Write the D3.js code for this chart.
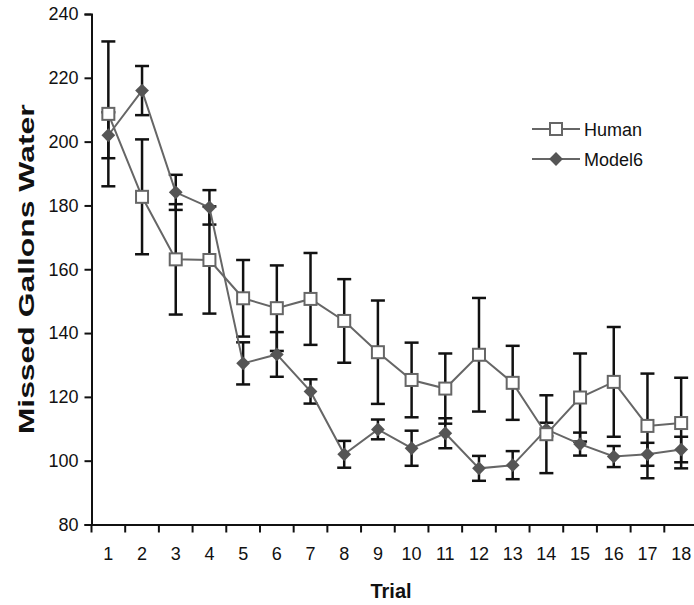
<!DOCTYPE html>
<html>
<head>
<meta charset="utf-8">
<script src="https://cdn.jsdelivr.net/npm/d3@7"></script>
<style>
  body { margin: 0; background: #fff; }
  text { font-family: "Liberation Sans", Arial, sans-serif; }
</style>
</head>
<body>
<div id="chart"></div>
<script>
const svgWidth = 694;
const svgHeight = 605;

const trials = d3.range(1, 19);
const humanMean = [208.7, 182.7, 163.1, 162.9, 150.9, 147.8, 150.7, 143.8, 134.0, 125.3, 122.6, 133.2, 124.4, 108.3, 119.8, 124.7, 110.9, 111.8];
const humanErr  = [22.7, 18.0, 17.3, 16.8, 12.0, 13.4, 14.4, 13.1, 16.2, 11.7, 11.0, 17.8, 11.6, 12.2, 13.8, 17.2, 16.4, 14.2];
const modelMean = [202.0, 216.0, 184.1, 179.4, 130.5, 133.3, 121.7, 102.0, 109.8, 103.9, 108.6, 97.6, 98.6, 109.8, 105.2, 101.3, 102.0, 103.5];
const modelErr  = [7.2, 7.7, 5.5, 5.4, 6.6, 7.0, 3.8, 4.2, 3.1, 5.5, 4.7, 3.9, 4.4, 2.1, 3.6, 3.3, 3.6, 4.0];
const yTicks = [80, 100, 120, 140, 160, 180, 200, 220, 240];

const plot = {left: 91.5, right: 698, top: 14, bottom: 524.5};

const x = d3.scaleBand()
    .domain(trials)
    .range([plot.left, plot.right]);

const y = d3.scaleLinear()
    .domain([80, 240])
    .range([plot.bottom, plot.top]);

const cx = t => x(t) + x.bandwidth() / 2;

const svg = d3.select("#chart")
    .append("svg")
    .attr("width", svgWidth)
    .attr("height", svgHeight);

// axes
const xAxis = svg.append("g")
    .attr("transform", `translate(0,${plot.bottom})`)
    .call(d3.axisBottom(x).tickSize(0).tickPadding(23));
xAxis.select(".domain").attr("stroke", "#111").attr("stroke-width", 2);
xAxis.selectAll("text").attr("font-size", "18px").attr("fill", "#111");
// Excel style ticks between categories
xAxis.selectAll(".bnd")
    .data(d3.range(0, 19))
    .join("line")
    .attr("x1", i => plot.left + i * x.bandwidth())
    .attr("x2", i => plot.left + i * x.bandwidth())
    .attr("y1", 0)
    .attr("y2", 8)
    .attr("stroke", "#111")
    .attr("stroke-width", 2);

const yAxis = svg.append("g")
    .attr("transform", `translate(${plot.left},0)`)
    .call(d3.axisLeft(y).tickValues(yTicks).tickSize(7).tickPadding(6));
yAxis.select(".domain").attr("stroke", "#111").attr("stroke-width", 2);
yAxis.selectAll(".tick line").attr("stroke", "#111").attr("stroke-width", 2);
yAxis.selectAll("text").attr("font-size", "18px").attr("fill", "#111");

// axis titles
svg.append("text")
    .attr("transform", `translate(34,${(plot.top + plot.bottom) / 2}) rotate(-90)`)
    .attr("text-anchor", "middle")
    .attr("font-size", "22px")
    .attr("font-weight", "bold")
    .attr("fill", "#111")
    .attr("textLength", 330)
    .attr("lengthAdjust", "spacingAndGlyphs")
    .text("Missed Gallons Water");

svg.append("text")
    .attr("x", 391)
    .attr("y", 598)
    .attr("text-anchor", "middle")
    .attr("font-size", "20px")
    .attr("font-weight", "bold")
    .attr("fill", "#111")
    .text("Trial");

// error bars
function errorBars(means, errs) {
    const g = svg.append("g").attr("stroke", "#111").attr("stroke-width", 2.5);
    trials.forEach((t, i) => {
        const hi = y(means[i] + errs[i]), lo = y(means[i] - errs[i]);
        g.append("line").attr("x1", cx(t)).attr("x2", cx(t)).attr("y1", hi).attr("y2", lo);
        g.append("line").attr("x1", cx(t) - 7).attr("x2", cx(t) + 7).attr("y1", hi).attr("y2", hi);
        g.append("line").attr("x1", cx(t) - 7).attr("x2", cx(t) + 7).attr("y1", lo).attr("y2", lo);
    });
}
errorBars(humanMean, humanErr);
errorBars(modelMean, modelErr);

const line = d3.line()
    .x((_, i) => cx(trials[i]))
    .y(d => y(d));

svg.append("path")
    .datum(modelMean)
    .attr("d", line)
    .attr("fill", "none")
    .attr("stroke", "#666")
    .attr("stroke-width", 2);

svg.append("path")
    .datum(humanMean)
    .attr("d", line)
    .attr("fill", "none")
    .attr("stroke", "#666")
    .attr("stroke-width", 2);

const diamond = d3.symbol().type(d3.symbolSquare).size(95);

svg.append("g").selectAll("path")
    .data(modelMean)
    .join("path")
    .attr("d", diamond)
    .attr("transform", (d, i) => `translate(${cx(trials[i])},${y(d)}) rotate(45)`)
    .attr("fill", "#555");

svg.append("g").selectAll("rect")
    .data(humanMean)
    .join("rect")
    .attr("x", (d, i) => cx(trials[i]) - 6)
    .attr("y", d => y(d) - 6)
    .attr("width", 12)
    .attr("height", 12)
    .attr("fill", "#fff")
    .attr("stroke", "#666")
    .attr("stroke-width", 2);

// legend
const legend = svg.append("g");
const legendItems = ["Human", "Model6"];
legendItems.forEach((name, i) => {
    const ly = 129 + i * 30;
    legend.append("line")
        .attr("x1", 532).attr("x2", 580)
        .attr("y1", ly).attr("y2", ly)
        .attr("stroke", "#666").attr("stroke-width", 2);
    if (i === 0) {
        legend.append("rect")
            .attr("x", 550).attr("y", ly - 6)
            .attr("width", 12).attr("height", 12)
            .attr("fill", "#fff").attr("stroke", "#666").attr("stroke-width", 2);
    } else {
        legend.append("path")
            .attr("d", diamond)
            .attr("transform", `translate(556,${ly}) rotate(45)`)
            .attr("fill", "#555");
    }
    legend.append("text")
        .attr("x", 584)
        .attr("y", ly + 6.5)
        .attr("font-size", "18px")
        .attr("fill", "#111")
        .text(name);
});
</script>
</body>
</html>
